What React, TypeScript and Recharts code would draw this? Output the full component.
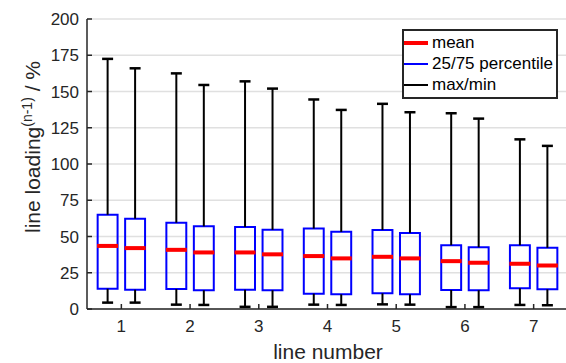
import React from 'react';
import {
  ComposedChart,
  XAxis,
  YAxis,
  CartesianGrid,
  ReferenceArea,
  ReferenceLine,
  Scatter,
  Legend,
} from 'recharts';

const LINE_NUMBERS = [1, 2, 3, 4, 5, 6, 7];
const Y_TICKS = [0, 25, 50, 75, 100, 125, 150, 175, 200];

// left box of each pair
const MAX_A = [172.5, 162.5, 157, 144.5, 141.5, 135, 117];
const Q75_A = [65, 59.5, 56.5, 55.5, 54.5, 44, 44];
const MEAN_A = [43.5, 40.8, 39, 36.5, 36, 33, 31.2];
const Q25_A = [14, 13.8, 13.3, 10.6, 10.8, 13.1, 14.3];
const MIN_A = [4.4, 3, 1.5, 3, 3.2, 1.3, 2.8];

// right box of each pair
const MAX_B = [166, 154.5, 152, 137.3, 135.7, 131.3, 112.5];
const Q75_B = [62.3, 57, 54.6, 53.2, 52.5, 42.6, 42.2];
const MEAN_B = [42, 39, 37.7, 34.9, 34.9, 31.9, 30];
const Q25_B = [13.3, 12.9, 12.9, 10.1, 10.1, 12.9, 13.6];
const MIN_B = [4.4, 2.8, 1.5, 2.8, 3, 1.3, 2.6];

const OFFSET = 0.2;
const BOX_HALF = 0.145;
const CAP_HALF = 0.08;
const FONT = '"Liberation Sans", Arial, Helvetica, sans-serif';
const AXIS_COLOR = '#262626';

const makeBoxes = (
  offset: number,
  max: number[],
  q75: number[],
  mean: number[],
  q25: number[],
  min: number[],
) =>
  LINE_NUMBERS.map((n, i) => ({
    x: n + offset,
    y: mean[i],
    max: max[i],
    q75: q75[i],
    q25: q25[i],
    min: min[i],
  }));

const boxesA = makeBoxes(-OFFSET, MAX_A, Q75_A, MEAN_A, Q25_A, MIN_A);
const boxesB = makeBoxes(OFFSET, MAX_B, Q75_B, MEAN_B, Q25_B, MIN_B);
const allBoxes = [...boxesA, ...boxesB];

const MeanBar = (props: any) => {
  const { cx, cy } = props;
  if (cx == null || cy == null) return null;
  return <rect x={cx - 10.5} y={cy - 2} width={21} height={4} fill="#ff0000" />;
};

const LEGEND_ITEMS = [
  { label: 'mean', color: '#ff0000', thickness: 4 },
  { label: '25/75 percentile', color: '#0000ff', thickness: 2 },
  { label: 'max/min', color: '#000000', thickness: 2 },
];

const LegendBox = () => (
  <div
    style={{
      border: '2px solid #262626',
      background: '#fff',
      width: 152,
      padding: '1px 0 2px 0',
      fontFamily: FONT,
      fontSize: 17,
      color: '#000',
      boxSizing: 'content-box',
    }}
  >
    {LEGEND_ITEMS.map((it) => (
      <div key={it.label} style={{ display: 'flex', alignItems: 'center', height: 21, whiteSpace: 'nowrap' }}>
        <div
          style={{
            width: 24,
            height: it.thickness,
            backgroundColor: it.color,
            marginRight: 4,
            flex: '0 0 auto',
          }}
        />
        <span>{it.label}</span>
      </div>
    ))}
  </div>
);

export default function App() {
  return (
    <div style={{ position: 'absolute', left: 0, top: 0, width: 566, height: 363, overflow: 'hidden', background: '#fff' }}>
      <ComposedChart width={570} height={363} margin={{ top: 19, right: 2, bottom: 0, left: 0 }}>
        <CartesianGrid vertical={false} stroke="#e0e0e0" strokeWidth={1.5} />
        <XAxis
          dataKey="x"
          type="number"
          domain={[0.5, 7.5]}
          ticks={LINE_NUMBERS}
          allowDataOverflow
          height={54}
          tickSize={-5}
          tickMargin={16}
          tick={{ fill: AXIS_COLOR, fontSize: 17, fontFamily: FONT }}
          axisLine={{ stroke: AXIS_COLOR, strokeWidth: 1.5 }}
          tickLine={{ stroke: AXIS_COLOR, strokeWidth: 1.5 }}
          label={{
            content: () => (
              <text x={328} y={359} textAnchor="middle" fontSize={21} fontFamily={FONT} fill={AXIS_COLOR}>
                line number
              </text>
            ),
          }}
        />
        <XAxis
          xAxisId="top"
          orientation="top"
          type="number"
          domain={[0.5, 7.5]}
          ticks={LINE_NUMBERS}
          allowDataOverflow
          height={0}
          tickSize={-5}
          tick={false}
          axisLine={{ stroke: AXIS_COLOR, strokeWidth: 1.5 }}
          tickLine={{ stroke: AXIS_COLOR, strokeWidth: 1.5 }}
        />
        <YAxis
          dataKey="y"
          type="number"
          domain={[0, 200]}
          ticks={Y_TICKS}
          allowDataOverflow
          width={87}
          tickSize={-5}
          tickMargin={13}
          tick={{ fill: AXIS_COLOR, fontSize: 17, fontFamily: FONT }}
          axisLine={{ stroke: AXIS_COLOR, strokeWidth: 1.5 }}
          tickLine={{ stroke: AXIS_COLOR, strokeWidth: 1.5 }}
          label={{
            content: () => (
              <text
                transform="translate(40, 147) rotate(-90)"
                textAnchor="middle"
                fontSize={21}
                fontFamily={FONT}
                fill={AXIS_COLOR}
              >
                line loading
                <tspan fontSize={14} dy={-8}>
                  (n-1)
                </tspan>
                <tspan dy={8}> / %</tspan>
              </text>
            ),
          }}
        />
        <YAxis
          yAxisId="right"
          orientation="right"
          type="number"
          domain={[0, 200]}
          ticks={Y_TICKS}
          allowDataOverflow
          width={0}
          tickSize={-5}
          tick={false}
          axisLine={{ stroke: AXIS_COLOR, strokeWidth: 1.5 }}
          tickLine={{ stroke: AXIS_COLOR, strokeWidth: 1.5 }}
        />

        {allBoxes.map((b, i) => (
          <ReferenceLine
            key={`wu${i}`}
            segment={[{ x: b.x, y: b.q75 }, { x: b.x, y: b.max }]}
            stroke="#000"
            strokeWidth={2}
          />
        ))}
        {allBoxes.map((b, i) => (
          <ReferenceLine
            key={`wl${i}`}
            segment={[{ x: b.x, y: b.min }, { x: b.x, y: b.q25 }]}
            stroke="#000"
            strokeWidth={2}
          />
        ))}
        {allBoxes.map((b, i) => (
          <ReferenceLine
            key={`cu${i}`}
            segment={[{ x: b.x - CAP_HALF, y: b.max }, { x: b.x + CAP_HALF, y: b.max }]}
            stroke="#000"
            strokeWidth={2.5}
          />
        ))}
        {allBoxes.map((b, i) => (
          <ReferenceLine
            key={`cl${i}`}
            segment={[{ x: b.x - CAP_HALF, y: b.min }, { x: b.x + CAP_HALF, y: b.min }]}
            stroke="#000"
            strokeWidth={2.5}
          />
        ))}
        {allBoxes.map((b, i) => (
          <ReferenceArea
            key={`bx${i}`}
            x1={b.x - BOX_HALF}
            x2={b.x + BOX_HALF}
            y1={b.q25}
            y2={b.q75}
            stroke="#0000ff"
            strokeWidth={2}
            fill="none"
            fillOpacity={0}
          />
        ))}

        <Scatter data={boxesA} dataKey="y" shape={MeanBar} isAnimationActive={false} />
        <Scatter data={boxesB} dataKey="y" shape={MeanBar} isAnimationActive={false} />

        <Legend
          layout="vertical"
          align="center"
          verticalAlign="middle"
          wrapperStyle={{ left: 402, top: 29, width: 156 }}
          content={() => <LegendBox />}
        />
      </ComposedChart>
    </div>
  );
}
